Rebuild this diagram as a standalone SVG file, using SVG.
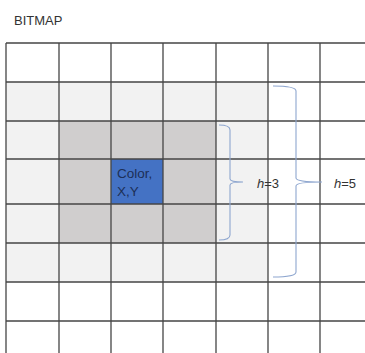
<svg xmlns="http://www.w3.org/2000/svg" width="365" height="353" viewBox="0 0 365 353">
<style>
.lt{fill:#f2f2f2}
.dk{fill:#d0cece}
.bl{fill:#4472c4}
.grid{stroke:#454545;stroke-width:1.3;fill:none}
.brace{stroke:#8ea6cf;stroke-width:1.1;fill:none}
.t{font-family:"Liberation Sans",Arial,sans-serif;font-size:13px;fill:#333}
.ct{font-family:"Liberation Sans",Arial,sans-serif;font-size:13.5px;fill:#1c2f57}
</style>
<rect width="365" height="353" fill="#fff"/>
<text id="title" class="t" x="14" y="25">BITMAP</text>
<g id="cells">
<rect class="lt" x="6" y="82" width="262" height="39"/>
<rect class="lt" x="6" y="121" width="262" height="122"/>
<rect class="lt" x="6" y="243" width="262" height="39"/>
<rect class="dk" x="59" y="121" width="157" height="122"/>
<rect id="pixel" class="bl" x="111" y="159" width="52" height="45"/>
</g>
<g id="grid" class="grid">
<path d="M6 43V353M59 43V353M111 43V353M163 43V353M216 43V353M268 43V353M320 43V353"/>
<path d="M6 43H365M6 82H365M6 121H365M6 159H365M6 204H365M6 243H365M6 282H365M6 321H365"/>
</g>
<g id="pixel-label">
<text class="ct" x="117" y="178">Color,</text>
<text class="ct" x="117" y="196">X,Y</text>
</g>
<g id="connectors">
<path class="brace" d="M219 125Q230 125 230 130V179Q230 182 243 182Q230 182 230 185V235Q230 240 219 240"/>
<path class="brace" d="M273 86Q296 86 296 91V178Q296 182 322 182Q296 182 296 186V272Q296 277 273 277"/>
</g>
<g id="labels">
<text class="t" x="257" y="188"><tspan font-style="italic">h</tspan>=3</text>
<text class="t" x="334" y="188"><tspan font-style="italic">h</tspan>=5</text>
</g>
</svg>
